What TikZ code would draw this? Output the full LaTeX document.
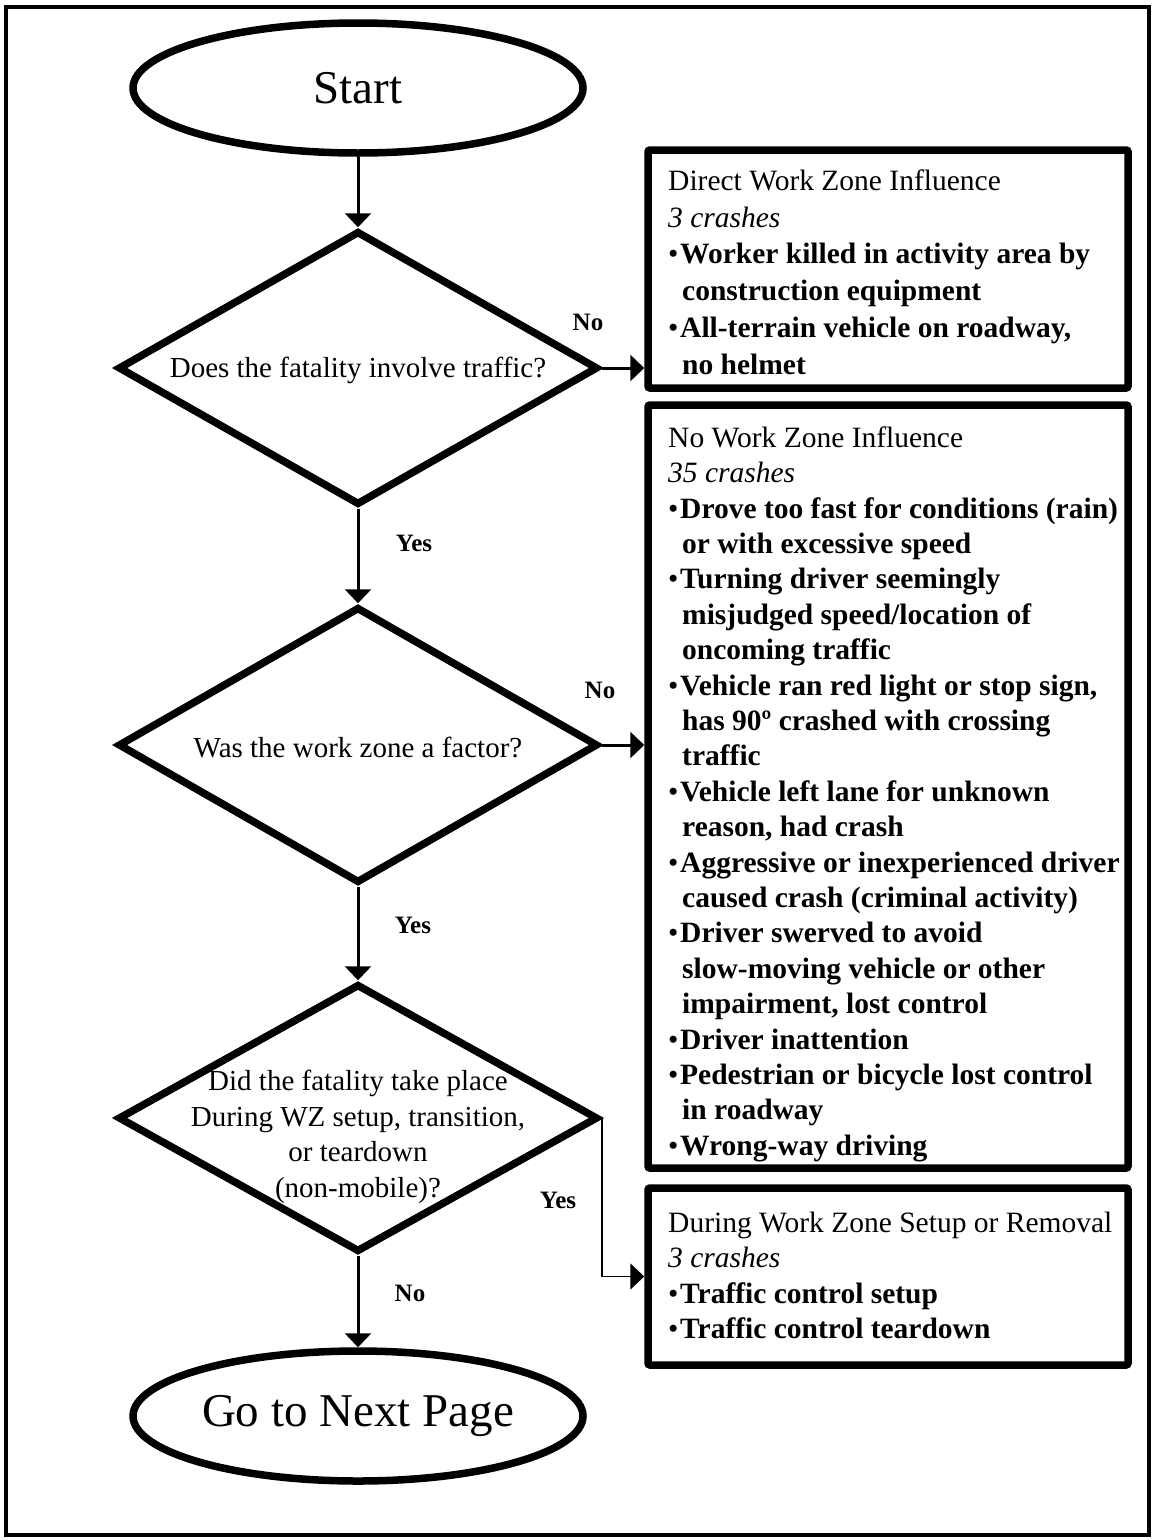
\documentclass[tikz,border=0pt]{standalone}
\usepackage{fontspec}
\setmainfont{Liberation Serif}
\usetikzlibrary{shapes.geometric,arrows.meta,calc}
\newcommand{\mybul}{\makebox[12pt][l]{•}}
\newcommand{\myind}{\hspace*{14pt}}
\begin{document}
\begin{tikzpicture}[x=1pt,y=-1pt,
  shapeline/.style={line width=7.5pt},
  term/.style={ellipse, draw, shapeline, minimum width=450pt, minimum height=130pt, inner sep=0pt, font=\fontsize{47}{56}\selectfont},
  decision/.style={diamond, draw, shapeline, minimum width=480pt, inner sep=0pt},
  qtext/.style={align=center, font=\fontsize{29}{35.7}\selectfont, inner sep=0pt},
  outbox/.style={draw, shapeline, rounded corners=2pt, minimum width=480pt, inner sep=0pt},
  boxtext/.style={anchor=north west, align=left, inner sep=0pt, font=\fontsize{29.5}{35.4}\selectfont},
  arr/.style={line width=3pt, -{Triangle[width=26pt,length=14pt]}},
  thinarr/.style={line width=1.8pt, -{Triangle[width=26pt,length=14pt]}},
  lbl/.style={font=\bfseries\fontsize{25}{29}\selectfont, inner sep=0pt},
]
\useasboundingbox (0,0) rectangle (1154,1540);
\node[draw, line width=4.5pt, minimum width=1143pt, minimum height=1528pt, inner sep=0pt] (frame) at (577.5,771) {};

% terminals
\node[term] (start) at (358,88) {Start};
\node[term] (end) at (358,1416) {Go to Next Page};

% decisions
\node[decision, minimum height=274pt] (d1) at (358,368) {};
\node[decision, minimum height=276pt] (d2) at (358,745) {};
\node[decision, minimum height=268pt] (d3) at (358,1118) {};
\node[qtext] (q1) at ($(d1.center)+(0,2)$) {Does the fatality involve traffic?};
\node[qtext] (q2) at ($(d2.center)+(0,2)$) {Was the work zone a factor?};
\node[qtext] (q3) at ($(d3.center)+(0,19)$) {Did the fatality take place\\During WZ setup, transition,\\or teardown\\(non-mobile)?};

% outcome boxes
\node[outbox, minimum height=238pt] (b1) at (888,269) {};
\node[outbox, minimum height=763pt] (b2) at (888,786.5) {};
\node[outbox, minimum height=177pt] (b3) at (888,1276.5) {};

\node[boxtext, font=\fontsize{29.5}{36.8}\selectfont] (t1) at (668,168) {\rule{0pt}{22pt}Direct Work Zone Influence\\
\textit{3 crashes}\\
\mybul\textbf{Worker killed in activity area by}\\
\myind\textbf{construction equipment}\\
\mybul\textbf{All-terrain vehicle on roadway,}\\
\myind\textbf{no helmet}};

\node[boxtext] (t2) at (668,425) {\rule{0pt}{22pt}No Work Zone Influence\\
\textit{35 crashes}\\
\mybul\textbf{Drove too fast for conditions (rain)}\\
\myind\textbf{or with excessive speed}\\
\mybul\textbf{Turning driver seemingly}\\
\myind\textbf{misjudged speed/location of}\\
\myind\textbf{oncoming traffic}\\
\mybul\textbf{Vehicle ran red light or stop sign,}\\
\myind\textbf{has 90º crashed with crossing}\\
\myind\textbf{traffic}\\
\mybul\textbf{Vehicle left lane for unknown}\\
\myind\textbf{reason, had crash}\\
\mybul\textbf{Aggressive or inexperienced driver}\\
\myind\textbf{caused crash (criminal activity)}\\
\mybul\textbf{Driver swerved to avoid}\\
\myind\textbf{slow-moving vehicle or other}\\
\myind\textbf{impairment, lost control}\\
\mybul\textbf{Driver inattention}\\
\mybul\textbf{Pedestrian or bicycle lost control}\\
\myind\textbf{in roadway}\\
\mybul\textbf{Wrong-way driving}};

\node[boxtext] (t3) at (668,1210) {\rule{0pt}{22pt}During Work Zone Setup or Removal\\
\textit{3 crashes}\\
\mybul\textbf{Traffic control setup}\\
\mybul\textbf{Traffic control teardown}};

% connectors
\draw[arr] (start.south) -- (d1.north);
\draw[arr] (d1.east) -- (d1.east -| b1.west);
\draw[arr] (d1.south) -- (d2.north);
\draw[arr] (d2.east) -- (d2.east -| b2.west);
\draw[arr] (d2.south) -- (d3.north);
\draw[thinarr] (d3.east) |- (b3.west);
\draw[arr] (d3.south) -- (end.north);

% labels
\node[lbl] (l1) at (588,322) {No};
\node[lbl] (l2) at (414,543) {Yes};
\node[lbl] (l3) at (600,690) {No};
\node[lbl] (l4) at (413,925) {Yes};
\node[lbl] (l5) at (558,1200) {Yes};
\node[lbl] (l6) at (410,1293) {No};
\end{tikzpicture}
\end{document}
